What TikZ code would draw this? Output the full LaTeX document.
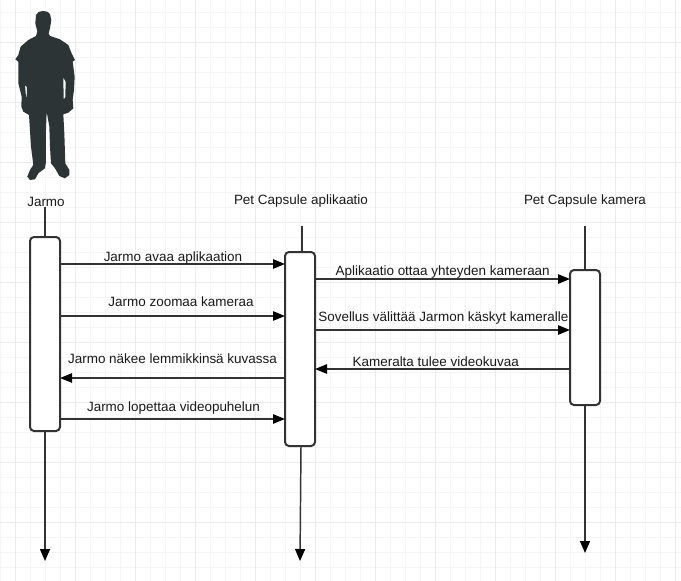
\documentclass[tikz,border=0pt]{standalone}
\usepackage{fontspec}
\setmainfont{Liberation Sans}
\usetikzlibrary{arrows.meta}
\definecolor{gridminor}{HTML}{F5F5F5}
\definecolor{gridmajor}{HTML}{EBEBEB}
\definecolor{inkline}{HTML}{333333}
\definecolor{figure}{HTML}{2D3436}
\tikzset{
  x=0.75pt,y=-0.75pt,
  lifebox/.style={draw=inkline,fill=white,line width=1.5pt,rounded corners=3pt,minimum width=22.5pt,inner sep=0pt,outer sep=0pt},
  lifeline/.style={draw=inkline,line width=1.1pt},
  lifearrow/.style={lifeline,-{Triangle[length=9pt,width=7.5pt,color=black]}},
  msg/.style={draw=inkline,line width=1.2pt,-{Triangle[length=9pt,width=7pt,color=black]}},
  lbl/.style={font=\fontsize{10.1pt}{12pt}\selectfont,text=black!90,inner sep=0pt},
}
\begin{document}
\begin{tikzpicture}
\useasboundingbox (0,0) rectangle (681,581);
\fill[white] (0,0) rectangle (681,581);
% grid
\foreach \gx in {0,15,...,675} \draw[gridminor,line width=0.75pt] (\gx+0.5,0) -- (\gx+0.5,581);
\foreach \gy in {12,27,...,581} \draw[gridminor,line width=0.75pt] (0,\gy+0.5) -- (681,\gy+0.5);
\foreach \gx in {15,75,...,675} \draw[gridmajor,line width=0.75pt] (\gx+0.5,0) -- (\gx+0.5,581);
\foreach \gy in {42,102,...,581} \draw[gridmajor,line width=0.75pt] (0,\gy+0.5) -- (681,\gy+0.5);
% silhouette
\fill[figure,even odd rule,scale=0.3333]
  (128,33) -- (142,35) -- (150,42) -- (154,60) -- (150,85) -- (146,100) -- (150,108) -- (180,118) -- (205,135) -- (215,160) -- (225,180) -- (218,185) -- (224,230) -- (222,270) -- (218,300) -- (220,325) -- (205,338) -- (190,343) -- (193,400) -- (196,490) -- (208,510) -- (208,525) -- (195,535) -- (178,528) -- (165,505) -- (153,490) -- (150,440) -- (148,380) -- (140,335) -- (138,390) -- (138,485) -- (135,505) -- (115,520) -- (105,538) -- (90,540) -- (82,530) -- (90,510) -- (100,495) -- (93,440) -- (87,345) -- (70,335) -- (64,320) -- (65,290) -- (55,250) -- (55,185) -- (46,178) -- (55,165) -- (62,140) -- (85,120) -- (108,108) -- (112,95) -- (106,70) -- (108,45) -- (116,36) -- cycle
  (75,255) -- (81,262) -- (80,292) -- (78,290) -- cycle
  (190,232) -- (197,245) -- (196,292) -- (191,298) -- cycle;
% titles
\node[lbl] (tJarmo) at (46,202) {Jarmo};
\node[lbl] (tApp) at (301,201) {Pet Capsule aplikaatio};
\node[lbl] (tCam) at (585,201) {Pet Capsule kamera};
% free ends of lifelines
\coordinate (aTop) at (45,207);
\coordinate (aEnd) at (45,561);
\coordinate (bTop) at (302,226);
\coordinate (bEnd) at (300,561);
\coordinate (cTop) at (585,226);
\coordinate (cEnd) at (585,553);
% lifeline boxes
\node[lifebox,minimum height=145.5pt] (boxA) at (45,334) {};
\node[lifebox,minimum height=145.5pt] (boxB) at (300,349) {};
\node[lifebox,minimum height=101.25pt] (boxC) at (585,337.5) {};
% lifelines
\draw[lifeline] (aTop) -- (boxA.north);
\draw[lifeline] (bTop) -- (boxB.north -| bTop);
\draw[lifeline] (cTop) -- (boxC.north);
\draw[lifearrow] (boxA.south) -- (aEnd);
\draw[lifearrow] (boxB.south -| 301,0) -- (bEnd);
\draw[lifearrow] (boxC.south) -- (cEnd);
% messages
\draw[msg] (boxA.east |- 0,264) -- (boxB.west |- 0,264);
\draw[msg] (boxA.east |- 0,316) -- (boxB.west |- 0,316);
\draw[msg] (boxB.west |- 0,378) -- (boxA.east |- 0,378);
\draw[msg] (boxA.east |- 0,419) -- (boxB.west |- 0,419);
\draw[msg] (boxB.east |- 0,279) -- (boxC.west |- 0,279);
\draw[msg] (boxB.east |- 0,330) -- (boxC.west |- 0,330);
\draw[msg] (boxC.west |- 0,369) -- (boxB.east |- 0,369);
% labels
\node[lbl] (m1) at (173,258) {Jarmo avaa aplikaation};
\node[lbl] (m2) at (181,302) {Jarmo zoomaa kameraa};
\node[lbl] (m3) at (172.5,358.5) {Jarmo näkee lemmikkinsä kuvassa};
\node[lbl] (m4) at (173.5,408) {Jarmo lopettaa videopuhelun};
\node[lbl] (m5) at (442.7,272) {Aplikaatio ottaa yhteyden kameraan};
\node[lbl] (m6) at (443.3,318) {Sovellus välittää Jarmon käskyt kameralle};
\node[lbl] (m7) at (435.7,362) {Kameralta tulee videokuvaa};
\end{tikzpicture}
\end{document}
